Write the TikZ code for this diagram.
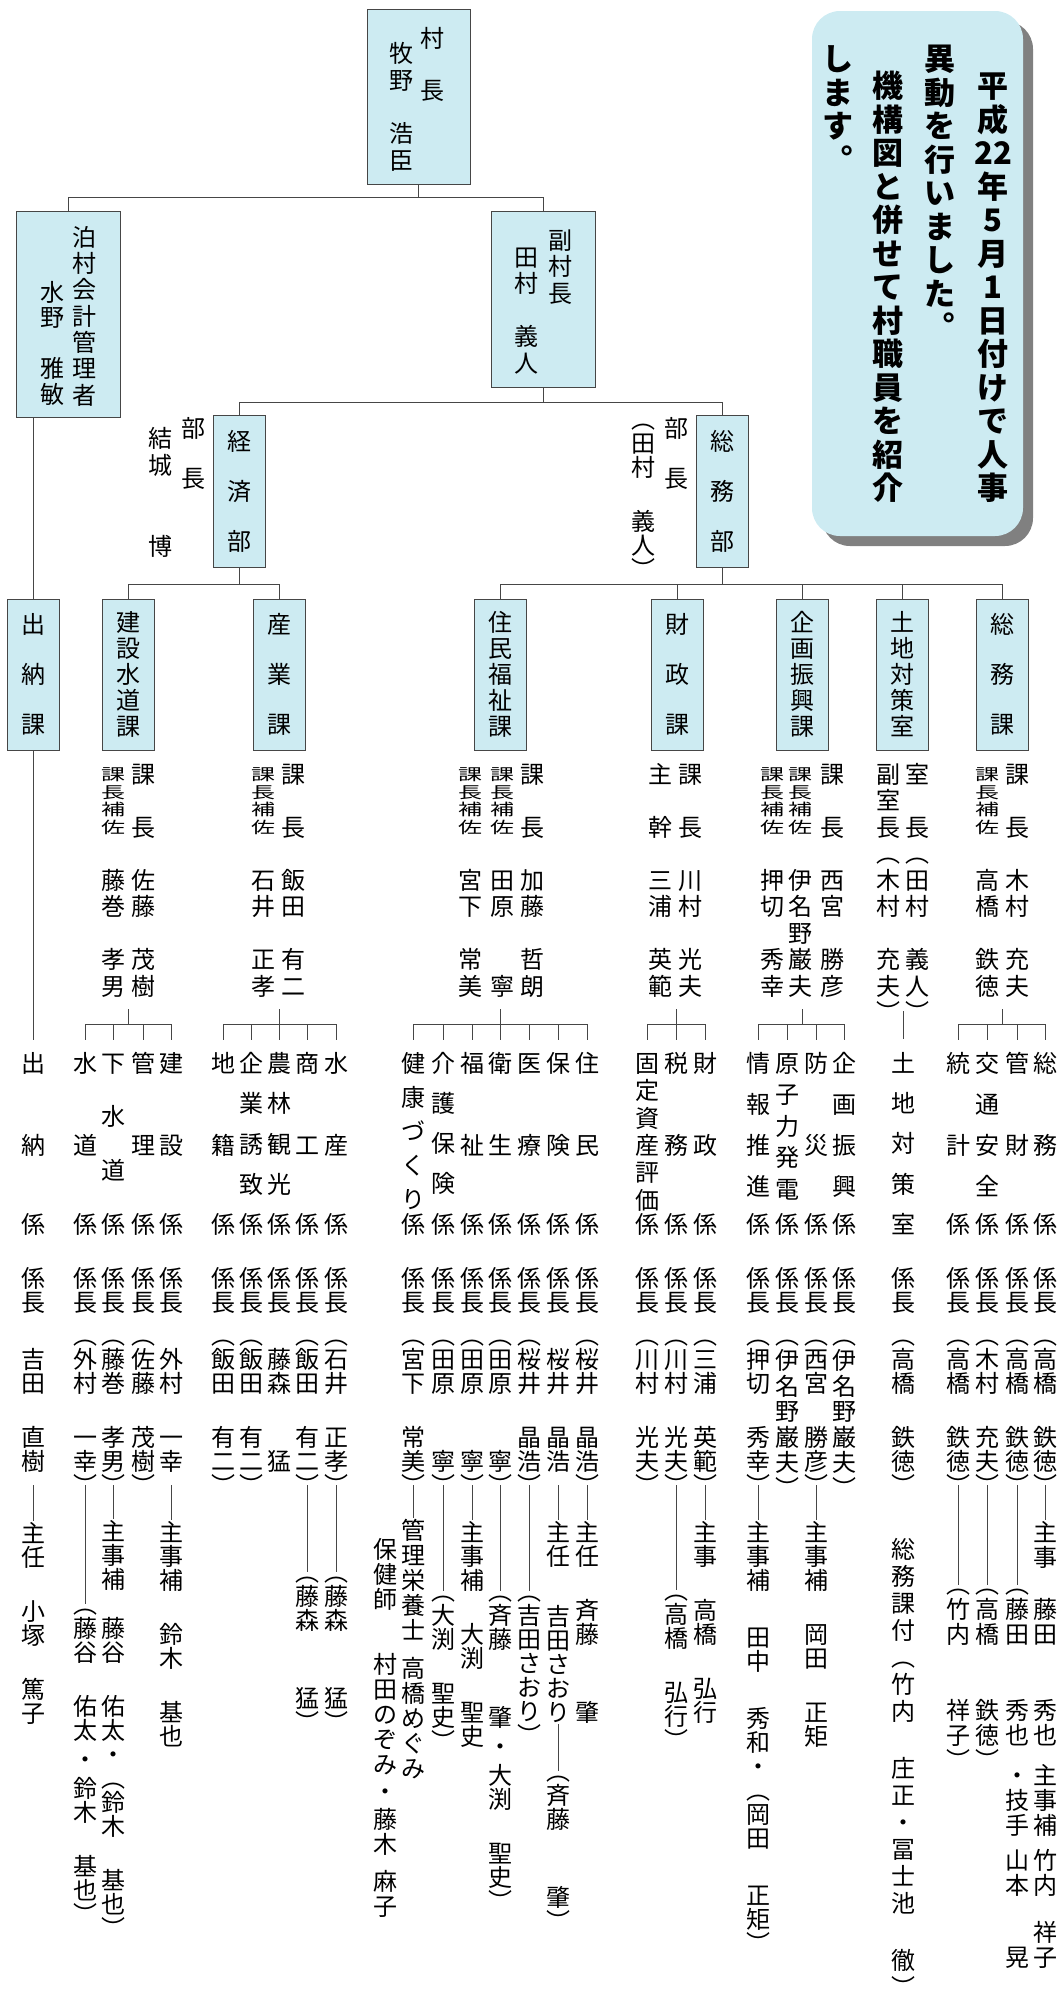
\documentclass[tikz,border=0pt]{standalone}
\usepackage{fontspec}
\usepackage{graphicx}
\newfontfamily\cjk{Noto Sans CJK JP}
\definecolor{boxblue}{RGB}{205,235,242}
\definecolor{boxline}{RGB}{70,70,70}
\definecolor{shade}{RGB}{128,128,128}
\usetikzlibrary{positioning}

% 縦書きの文字列を一文字ずつ積む
\ExplSyntaxOn
\dim_new:N \l_vs_cp_dim
\dim_new:N \l_vs_sp_dim
\dim_new:N \l_vs_dp_dim
\tl_new:N \l_vs_str_tl
\cs_new_protected:Npn \vs_cell:nn #1#2
  {
    \hbox_to_wd:nn { 1em }
      { \hss \vbox_to_ht:nn {#1} { \vss \hbox:n { \rule[-0.12em]{0pt}{1em} #2 } \vss } \hss }
  }
\NewDocumentCommand \Vs { O{24pt} O{30pt} O{34pt} m }
  {
    \dim_set:Nn \l_vs_cp_dim {#1}
    \dim_set:Nn \l_vs_sp_dim {#2}
    \dim_set:Nn \l_vs_dp_dim {#3}
    \tl_set:Nx \l_vs_str_tl {#4}
    \vbox:n
      {
        \offinterlineskip
        \tl_map_inline:Nn \l_vs_str_tl
          {
            \tl_if_single_token:nTF {##1}
              {
                \token_if_cs:NTF ##1
                  { ##1 }
                  {
                    \tl_if_eq:nnTF {##1} {　}
                      { \vs_cell:nn { \l_vs_sp_dim } { } }
                      {
                        \tl_if_eq:nnTF {##1} {・}
                          { \vs_cell:nn { \l_vs_dp_dim } {##1} }
                          { \vs_cell:nn { \l_vs_cp_dim } {##1} }
                      }
                  }
              }
              { ##1 }
          }
      }
  }
\NewDocumentCommand \Po { } { \vs_cell:nn { 0.5\l_vs_cp_dim } { \smash { \raisebox { 0.25\l_vs_cp_dim } {︵} } } }
\NewDocumentCommand \Pc { } { \vs_cell:nn { 0.5\l_vs_cp_dim } { \smash { \raisebox { -0.25\l_vs_cp_dim } {︶} } } }
\NewDocumentCommand \Hs { } { \vs_cell:nn { 0.5\l_vs_cp_dim } { } }
\NewDocumentCommand \Sk { } { \vs_cell:nn { \l_vs_cp_dim } { } }
\NewDocumentCommand \Gap { m } { \vs_cell:nn {#1} { } }
\NewDocumentCommand \Ch { m } { \vs_cell:nn { \l_vs_cp_dim } {#1} }
\ExplSyntaxOff

\tikzset{
  box/.style={draw=boxline,fill=boxblue,line width=1pt,inner sep=0pt,font=\cjk\fontsize{24pt}{24pt}\selectfont},
  vt/.style={inner sep=0pt,anchor=north,font=\cjk\fontsize{24pt}{24pt}\selectfont},
  nt/.style={inner sep=0pt,anchor=north,font=\cjk\bfseries\fontsize{31pt}{31pt}\selectfont},
  conn/.style={draw=boxline,line width=1pt}
}

\begin{document}
\begin{tikzpicture}[x=1pt,y=-1pt]
  \useasboundingbox (0,0) rectangle (1060,1990);

  % お知らせの枠
  \node[fill=shade,rounded corners=28pt,minimum width=211pt,minimum height=525pt,inner sep=0pt] (oshirase-kage) at (927.5,283.5) {};
  \node[fill=boxblue,rounded corners=28pt,minimum width=211pt,minimum height=525pt,inner sep=0pt] (oshirase) at (917.5,273.5) {};
  \node[nt] (os1) at (993,69.25) {\Vs[33.5pt][33.5pt][33.5pt]{平成{\Ch{22}}年5月1日付けで人事}};
  \node[nt] (os2) at (940,42.25) {\Vs[33.5pt][33.5pt][33.5pt]{異動を行いました︒}};
  \node[nt] (os3) at (888,69.25) {\Vs[33.5pt][33.5pt][33.5pt]{機構図と併せて村職員を紹介}};
  \node[nt] (os4) at (838,42.25) {\Vs[33.5pt][33.5pt][33.5pt]{します︒}};

  % 村長・会計管理者・副村長
  \node[box,minimum width=103pt,minimum height=175pt] (mayor) at (418.5,96.5) {};
  \node[vt] (mayor-t1) at (432,25) {\Vs[26pt][26pt]{村　長}};
  \node[vt] (mayor-t2) at (401,39.6) {\Vs[26.75pt][26.75pt]{牧野　浩臣}};
  \node[box,minimum width=104pt,minimum height=206pt] (acc) at (68,314) {};
  \node[vt] (acc-t1) at (84,223.85) {\Vs[26.3pt][26.3pt]{泊村会計管理者}};
  \node[vt] (acc-t2) at (52,279.25) {\Vs[25.5pt][25.5pt]{水野　雅敏}};
  \node[box,minimum width=104pt,minimum height=176pt] (vice) at (543,299) {};
  \node[vt] (vice-t1) at (560,226.75) {\Vs[26.5pt][26.5pt]{副村長}};
  \node[vt] (vice-t2) at (526,243.75) {\Vs[26.5pt][26.5pt]{田村　義人}};

  % 部
  \node[box,minimum width=52pt,minimum height=152pt] (ec) at (239,491) {\Vs[50pt][50pt]{経済部}};
  \node[box,minimum width=52pt,minimum height=152pt] (gen) at (722,491) {\Vs[50pt][50pt]{総務部}};
  \node[vt] (ec-l1) at (193,415.5) {\Vs[25pt][25pt]{部　長}};
  \node[vt] (ec-l2) at (160,424.5) {\Vs[27pt][27pt]{結城　　博}};
  \node[vt] (gen-l1) at (676,415.5) {\Vs[25pt][25pt]{部　長}};
  \node[vt] (gen-l2) at (643,419) {\Vs{\Po 田村　義人\Pc}};

  % 課
  \node[box,minimum width=52pt,minimum height=151pt] (suito) at (33,674.5) {\Vs[50pt][50pt]{出納課}};
  \node[box,minimum width=52pt,minimum height=151pt] (kensetsu) at (128,674.5) {\Vs[26pt][26pt]{建設水道課}};
  \node[box,minimum width=52pt,minimum height=151pt] (sangyo) at (279,674.5) {\Vs[50pt][50pt]{産業課}};
  \node[box,minimum width=52pt,minimum height=151pt] (jumin) at (500,674.5) {\Vs[26pt][26pt]{住民福祉課}};
  \node[box,minimum width=52pt,minimum height=151pt] (zaisei) at (677,674.5) {\Vs[50pt][50pt]{財政課}};
  \node[box,minimum width=52pt,minimum height=151pt] (kikaku) at (802,674.5) {\Vs[26pt][26pt]{企画振興課}};
  \node[box,minimum width=52pt,minimum height=151pt] (tochi) at (902.5,674.5) {\Vs[26pt][26pt]{土地対策室}};
  \node[box,minimum width=52pt,minimum height=151pt] (somu) at (1002.5,674.5) {\Vs[50pt][50pt]{総務課}};

  % 上の結線
  \draw[conn] (mayor.south) -- ++(0,13) coordinate (mj);
  \draw[conn] (acc.north) |- (mj) -| (vice.north);
  \draw[conn] (vice.south) -- ++(0,15) coordinate (vj);
  \draw[conn] (ec.north) |- (vj) -| (gen.north);
  \draw[conn] (acc.south -| suito.north) -- (suito.north);
  \draw[conn] (ec.south) -- ++(0,17) coordinate (ej);
  \draw[conn] (kensetsu.north) |- (ej) -| (sangyo.north);
  \draw[conn] (gen.south) -- ++(0,17) coordinate (gj);
  \draw[conn] (jumin.north) |- (gj) -| (somu.north);
  \foreach \b in {zaisei,kikaku,tochi} \draw[conn] (gj) -| (\b.north);

  % 課長・課長補佐
  \foreach \id/\x/\s in {kt1/143/課　長　佐藤　茂樹, st1/293/課　長　飯田　有二, jt1/532/課　長　加藤　哲朗,
      zt1/690/課　長　川村　光夫, zt2/660/主　幹　三浦　英範, pt1/832/課　長　西宮　勝彦,
      tt1/917/室　長︵田村　義人︶, tt2/888/副室長︵木村　充夫︶, gt1/1017/課　長　木村　充夫}
    \node[vt] (\id) at (\x,760.75) {\Vs[26.5pt][26.5pt]{\s}};
  \foreach \id/\x/\s in {kt2/113/藤巻　孝男, st2/263/石井　正孝, jt2/502/田原　　寧, jt3/470/宮下　常美,
      pt2/800/伊名野巌夫, pt3/772/押切　秀幸, gt2/987/高橋　鉄徳}
  {
    \node[vt] (\id-r) at (\x,765.2) {\scalebox{1}[0.667]{\Vs[26.5pt][26.5pt]{課長補佐}}};
    \node[vt] (\id) at (\x,866.75) {\Vs[26.5pt][26.5pt]{\s}};
  }

  % 係の名前
  \foreach \id/\x/\p/\s in {d1/33/82/出納, k1/85/82/水道, k2/113/53.5/下水道, k3/143/82/管理, k4/171/82/建設,
      s1/223/82/地籍, s2/251/40.5/企業誘致, s3/279/40.5/農林観光, s4/307/82/商工, s5/336/82/水産,
      j1/413/34/健康づくり, j2/443/40/介護保険, j3/472/82/福祉, j4/500/82/衛生, j5/529/82/医療,
      j6/558/82/保険, j7/587/82/住民, z1/647/27.4/固定資産評価, z2/676/82/税務, z3/705/82/財政,
      p1/758/41/情報推進, p2/787/31.5/原子力発電, p3/816/82/防災, p4/844/41/企画振興,
      t1/903/40.25/土地対策室, g1/958/82/統計, g2/987/41/交通安全, g3/1017/82/管財, g4/1045/82/総務}
    \node[vt] (\id) at (\x,{1063-\p/2}) {\Vs[\p pt][\p pt]{\s}};
  \foreach \id/\x in {d1/33, k1/85, k2/113, k3/143, k4/171, s1/223, s2/251, s3/279, s4/307, s5/336,
      j1/413, j2/443, j3/472, j4/500, j5/529, j6/558, j7/587, z1/647, z2/676, z3/705,
      p1/758, p2/787, p3/816, p4/844, g1/958, g2/987, g3/1017, g4/1045}
    \node[vt] (\id-k) at (\x,1212) {\Vs{係}};
  \foreach \id/\x in {d1/33, k1/85, k2/113, k3/143, k4/171, s1/223, s2/251, s3/279, s4/307, s5/336,
      j1/413, j2/443, j3/472, j4/500, j5/529, j6/558, j7/587, z1/647, z2/676, z3/705,
      p1/758, p2/787, p3/816, p4/844, t1/903, g1/958, g2/987, g3/1017, g4/1045}
    \node[vt] (\id-c) at (\x,1266) {\Vs{係長}};

  % 下の結線
  \foreach \g/\x/\cols in {k/128/{k1,k2,k3,k4}, s/279/{s1,s2,s3,s4,s5}, j/500/{j1,j2,j3,j4,j5,j6,j7},
      z/676/{z1,z2,z3}, p/802/{p1,p2,p3,p4}, g/1002/{g1,g2,g3,g4}}
  {
    \draw[conn] (\x,1009) -- (\x,1024) coordinate (\g-bar);
    \foreach \c in \cols \draw[conn] (\g-bar) -| (\c |- 0,1040);
  }
  \draw[conn] (903,1011) -- (t1 |- 0,1039);
  \draw[conn] (suito.south) -- (d1 |- 0,1040);

  % 係長
  \foreach \id/\x/\c/\s in {d1/33/24/\Hs 吉田　直樹\Hs, k1/85/24/\Po 外村　一幸\Pc, k2/113/24/\Po 藤巻　孝男\Pc,
      k3/143/24/\Po 佐藤　茂樹\Pc, k4/171/24/\Hs 外村　一幸\Hs, s1/223/24/\Po 飯田　有二\Pc,
      s2/251/24/\Po 飯田　有二\Pc, s3/279/24/\Hs 藤森　\Sk 猛\Hs, s4/307/24/\Po 飯田　有二\Pc,
      s5/336/24/\Po 石井　正孝\Pc, j1/413/24/\Po 宮下　常美\Pc, j2/443/24/\Po 田原　\Sk 寧\Pc,
      j3/472/24/\Po 田原　\Sk 寧\Pc, j4/500/24/\Po 田原　\Sk 寧\Pc, j5/529/24/\Po 桜井　晶浩\Pc,
      j6/558/24/\Hs 桜井　晶浩\Hs, j7/587/24/\Po 桜井　晶浩\Pc, z1/647/24/\Po 川村　光夫\Pc,
      z2/676/24/\Po 川村　光夫\Pc, z3/705/24/\Po 三浦　英範\Pc, p1/758/24/\Po 押切　秀幸\Pc,
      p2/787/25.5/\Po 伊名野巌夫\Pc, p3/816/24/\Po 西宮　勝彦\Pc, p4/844/25.5/\Po 伊名野巌夫\Pc,
      t1/903/24/\Po 高橋　鉄徳\Pc, g1/958/24/\Po 高橋　鉄徳\Pc, g2/987/24/\Po 木村　充夫\Pc,
      g3/1017/24/\Po 高橋　鉄徳\Pc, g4/1045/24/\Po 高橋　鉄徳\Pc}
    \node[vt] (\id-n) at (\x,1335) {\Vs[\c pt]{\s}};

  % 係員
  \node[vt] (d1-m) at (33,1521) {\Vs{主任　小塚　篤子}};
  \node[vt] (k1-m) at (85,1604) {\Vs{\Po 藤谷　佑太・鈴木　基也\Pc}};
  \node[vt] (k2-m) at (113,1519) {\Vs{主事補{\Gap{25pt}}藤谷　佑太{\Ch{・}}︵鈴木　基也\Pc}};
  \node[vt] (k4-m) at (171,1520) {\Vs{主事補　鈴木　基也}};
  \node[vt] (s4-m) at (307,1572) {\Vs{\Po 藤森　\Sk 猛\Pc}};
  \node[vt] (s5-m) at (336,1572) {\Vs{\Po 藤森　\Sk 猛\Pc}};
  \node[vt] (j1-m) at (413,1518) {\Vs[25pt]{管理栄養士\Hs 高橋めぐみ}};
  \node[vt] (j1-x) at (385,1536.5) {\Vs[25pt][40pt][30pt]{保健師　村田のぞみ・藤木{\Gap{12pt}}麻子}};
  \node[vt] (j2-m) at (443,1591) {\Vs{\Po 大渕　聖史\Pc}};
  \node[vt] (j3-m) at (472,1520) {\Vs{主事補　大渕　聖史}};
  \node[vt] (j4-m) at (500,1591) {\Vs{\Po 斉藤　\Sk 肇・大渕　聖史\Pc}};
  \node[vt] (j5-m) at (529,1591) {\Vs{\Po 吉田さおり\Pc}};
  \node[vt] (j6-m) at (558,1520) {\Vs[24pt][36pt]{主任　吉田さおり}};
  \node[vt] (j6-x) at (558,1771) {\Vs{\Po 斉藤　\Sk 肇\Pc}};
  \node[vt] (j7-m) at (587,1520) {\Vs{主任　斉藤　\Sk 肇}};
  \node[vt] (z2-m) at (676,1590) {\Vs{\Po 高橋　弘行\Pc}};
  \node[vt] (z3-m) at (705,1520) {\Vs{主事　高橋　弘行}};
  \node[vt] (p1-m) at (758,1520) {\Vs[24pt][33pt]{主事補　田中　秀和{\Ch{・}}︵岡田　正矩\Pc}};
  \node[vt] (p3-m) at (816,1520) {\Vs{主事補　岡田　正矩}};
  \node[vt] (t1-m) at (903,1535.5) {\Vs[27pt][30pt][27pt]{総務課付︵竹内　庄正・冨士池　徹\Pc}};
  \node[vt] (g1-m) at (958,1584.5) {\Vs[25pt]{\Po 竹内{\Gap{51pt}}祥子\Pc}};
  \node[vt] (g2-m) at (987,1584.5) {\Vs[25pt]{\Po 高橋{\Gap{51pt}}鉄徳\Pc}};
  \node[vt] (g3-m) at (1017,1584.5) {\Vs[25pt][30pt][25pt]{\Po 藤田{\Gap{51pt}}秀也{\Gap{15pt}}・技手{\Gap{10pt}}山本{\Gap{22pt}}\Sk 晃}};
  \node[vt] (g4-m) at (1045,1519.5) {\Vs[25pt]{主事{\Gap{27pt}}藤田{\Gap{51pt}}秀也{\Gap{15pt}}主事補{\Gap{10pt}}竹内{\Gap{22pt}}祥子}};

  % 係長と係員をつなぐ線
  \foreach \id in {d1,k1,k2,k4,s4,s5,j1,j2,j3,j4,j5,j6,j7,z2,z3,p1,p3,g1,g2,g3,g4}
    \draw[conn] (\id-n) -- (\id-m);
  \draw[conn] (j6-m) -- (j6-x);
\end{tikzpicture}
\end{document}
